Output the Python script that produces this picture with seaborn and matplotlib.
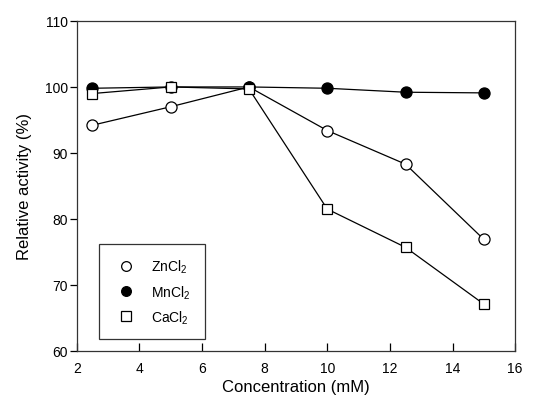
import pandas as pd
import seaborn as sns
import matplotlib.pyplot as plt
from matplotlib.lines import Line2D

# ---- data ----
conc = [2.5, 5, 7.5, 10, 12.5, 15]
zncl2 = [94.2, 97.0, 100.0, 93.4, 88.3, 76.9]
mncl2 = [99.8, 100.0, 100.0, 99.8, 99.2, 99.1]
cacl2 = [99.0, 100.0, 99.7, 81.5, 75.7, 67.1]
labels = [r"ZnCl$_2$", r"MnCl$_2$", r"CaCl$_2$"]

sns.set_style("ticks", {"text.color": "black", "axes.labelcolor": "black",
                        "xtick.color": "black", "ytick.color": "black"})
plt.rcParams["font.family"] = ["Liberation Sans", "DejaVu Sans"]
plt.rcParams["mathtext.fontset"] = "custom"
plt.rcParams["mathtext.rm"] = "Liberation Sans"
plt.rcParams["mathtext.it"] = "Liberation Sans:italic"

fig = plt.figure(figsize=(5.44, 4.10), dpi=100)
ax = fig.add_axes([0.141, 0.1415, 0.806, 0.805])

styles = [("o", "white"), ("o", "black"), ("s", "white")]
for vals, (mk, fc) in zip([zncl2, mncl2, cacl2], styles):
    df = pd.DataFrame({"conc": conc, "act": vals})
    sns.lineplot(data=df, x="conc", y="act", ax=ax, color="black", lw=0.9,
                 marker=mk, markersize=8 if mk == "o" else 7.5,
                 markerfacecolor=fc, markeredgecolor="black", markeredgewidth=0.9)

ax.set_xlim(2, 16)
ax.set_ylim(60, 110)
ax.set_xticks(range(2, 17, 2))
ax.set_yticks(range(60, 111, 10))
# x ticks point in, y ticks point out
ax.tick_params(axis="x", direction="in", length=6, width=0.9, pad=7, labelsize=10)
ax.tick_params(axis="y", direction="out", length=5, width=0.9, pad=1.5, labelsize=10)
for s in ax.spines.values():
    s.set_linewidth(0.9)
    s.set_color("#333333")
ax.set_xlabel("Concentration (mM)", fontsize=12, labelpad=3)
ax.set_ylabel("Relative activity (%)", fontsize=12, labelpad=9)

handles = [Line2D([], [], ls="none", marker=mk, markersize=7 if mk == "o" else 6.5,
                  markerfacecolor=fc, markeredgecolor="black", markeredgewidth=0.9)
           for mk, fc in styles]
leg = ax.legend(handles, labels, loc="lower left", bbox_to_anchor=(0.05, 0.035),
                frameon=True, fancybox=False, edgecolor="black", fontsize=10,
                handletextpad=0.8, borderpad=1.0, labelspacing=0.55, borderaxespad=0)
leg.get_frame().set_linewidth(0.9)

fig.savefig("out.png", dpi=100)
